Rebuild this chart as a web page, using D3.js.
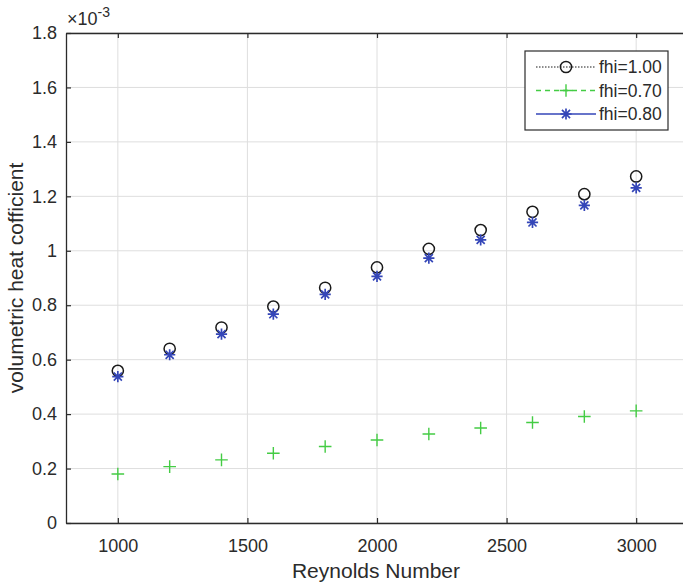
<!DOCTYPE html>
<html>
<head>
<meta charset="utf-8">
<script src="https://cdn.jsdelivr.net/npm/d3@7"></script>
<style>
  html, body { margin: 0; padding: 0; background: #fff; }
  svg { display: block; font-family: "Liberation Sans", Arial, sans-serif; }
</style>
</head>
<body>
<svg id="chart" width="683" height="586"></svg>
<script>
// Reynolds numbers sampled
const reynolds = [1000, 1200, 1400, 1600, 1800, 2000, 2200, 2400, 2600, 2800, 3000];
// Volumetric heat coefficient (×10^-3) for each volume fraction
const fhi100 = [0.559, 0.640, 0.718, 0.795, 0.864, 0.939, 1.007, 1.076, 1.143, 1.208, 1.273];
const fhi070 = [0.180, 0.207, 0.232, 0.256, 0.281, 0.305, 0.327, 0.349, 0.369, 0.391, 0.412];
const fhi080 = [0.538, 0.618, 0.694, 0.767, 0.840, 0.906, 0.973, 1.040, 1.104, 1.167, 1.231];
const seriesNames = ["fhi=1.00", "fhi=0.70", "fhi=0.80"];
const xTicks = [1000, 1500, 2000, 2500, 3000];
const yTicks = [0, 0.2, 0.4, 0.6, 0.8, 1.0, 1.2, 1.4, 1.6, 1.8];

(function () {
  const svg = d3.select("#chart");
  const mLeft = 66, mRight = 688, mTop = 33, mBottom = 523;

  const x = d3.scaleLinear().domain([800, 3200]).range([mLeft, mRight]);
  const y = d3.scaleLinear().domain([0, 1.8]).range([mBottom, mTop]);

  const axisColor = "#2b2b2b";
  const gridColor = "#dedede";
  const tickFont = 18;

  // grid
  const grid = svg.append("g");
  grid.selectAll(".gx").data(xTicks).join("line")
    .attr("x1", d => x(d)).attr("x2", d => x(d))
    .attr("y1", mTop).attr("y2", mBottom)
    .attr("stroke", gridColor).attr("stroke-width", 1);
  grid.selectAll(".gy").data(yTicks).join("line")
    .attr("x1", mLeft).attr("x2", mRight)
    .attr("y1", d => y(d)).attr("y2", d => y(d))
    .attr("stroke", gridColor).attr("stroke-width", 1);

  // axes (ticks pointing inward)
  const fmtY = d => d3.format("~g")(+d.toFixed(1));
  const xAxis = d3.axisBottom(x).tickValues(xTicks).tickSizeInner(-5).tickSizeOuter(0)
    .tickPadding(16).tickFormat(d3.format("d"));
  const yAxis = d3.axisLeft(y).tickValues(yTicks).tickSizeInner(-5).tickSizeOuter(0)
    .tickPadding(9).tickFormat(fmtY);
  const xAxisTop = d3.axisTop(x).tickValues(xTicks).tickSizeInner(-5).tickSizeOuter(0).tickFormat("");

  function styleAxis(g) {
    g.attr("font-size", tickFont).attr("font-family", "Liberation Sans, Arial, sans-serif");
    g.select(".domain").attr("stroke", axisColor).attr("stroke-width", 1.3);
    g.selectAll(".tick line").attr("stroke", axisColor).attr("stroke-width", 1.2);
    g.selectAll(".tick text").attr("fill", axisColor);
  }

  svg.append("g").attr("transform", `translate(0,${mBottom})`).call(xAxis).call(styleAxis);
  svg.append("g").attr("transform", `translate(0,${mTop})`).call(xAxisTop).call(styleAxis);
  svg.append("g").attr("transform", `translate(${mLeft},0)`).call(yAxis).call(styleAxis);

  // exponent label
  const expo = svg.append("text").attr("x", 67).attr("y", 25).attr("fill", axisColor)
    .attr("font-size", 18);
  expo.append("tspan").text("×10");
  expo.append("tspan").attr("dy", -8).attr("font-size", 14).text("-3");

  // axis labels
  svg.append("text").attr("x", 376).attr("y", 578)
    .attr("text-anchor", "middle").attr("fill", axisColor).attr("font-size", 21)
    .text("Reynolds Number");
  svg.append("text").attr("transform", `translate(23,${(mTop + mBottom) / 2}) rotate(-90)`)
    .attr("text-anchor", "middle").attr("fill", axisColor).attr("font-size", 21)
    .text("volumetric heat cofficient");

  // marker symbols
  const blackC = "#1a1a1a", greenC = "#44cc44", blueC = "#3446b8";

  function circleMarker(g, cx, cy) {
    g.append("circle").attr("cx", cx).attr("cy", cy).attr("r", 5.6)
      .attr("fill", "none").attr("stroke", blackC).attr("stroke-width", 1.5);
  }
  function plusMarker(g, cx, cy) {
    const s = 6.3;
    g.append("path").attr("d", `M${cx - s},${cy}H${cx + s}M${cx},${cy - s}V${cy + s}`)
      .attr("stroke", greenC).attr("stroke-width", 1.4).attr("fill", "none");
  }
  function starMarker(g, cx, cy) {
    const s = 5.6, d = s * 0.72;
    g.append("path").attr("d",
      `M${cx - s},${cy}H${cx + s}M${cx},${cy - s}V${cy + s}` +
      `M${cx - d},${cy - d}L${cx + d},${cy + d}M${cx - d},${cy + d}L${cx + d},${cy - d}`)
      .attr("stroke", blueC).attr("stroke-width", 1.7).attr("fill", "none");
  }

  const plot = svg.append("g");
  reynolds.forEach((r, i) => circleMarker(plot, x(r), y(fhi100[i])));
  reynolds.forEach((r, i) => plusMarker(plot, x(r), y(fhi070[i])));
  reynolds.forEach((r, i) => starMarker(plot, x(r), y(fhi080[i])));

  // legend
  const lg = svg.append("g");
  lg.append("rect").attr("x", 525).attr("y", 51).attr("width", 143).attr("height", 79)
    .attr("fill", "#fff").attr("stroke", axisColor).attr("stroke-width", 1.2);
  const rows = [
    { name: seriesNames[0], color: blackC, dash: "1.5,1.5", w: 1, mk: circleMarker },
    { name: seriesNames[1], color: greenC, dash: "5,4", w: 1.3, mk: plusMarker },
    { name: seriesNames[2], color: blueC, dash: null, w: 1.3, mk: starMarker }
  ];
  rows.forEach((r, i) => {
    const cy = 67 + i * 23.5;
    lg.append("line").attr("x1", 536).attr("x2", 596).attr("y1", cy).attr("y2", cy)
      .attr("stroke", r.color).attr("stroke-width", r.w)
      .attr("stroke-dasharray", r.dash);
    r.mk(lg, 566, cy);
    lg.append("text").attr("x", 599).attr("y", cy + 6).attr("fill", axisColor)
      .attr("font-size", 17.5).text(r.name);
  });
})();
</script>
</body>
</html>
